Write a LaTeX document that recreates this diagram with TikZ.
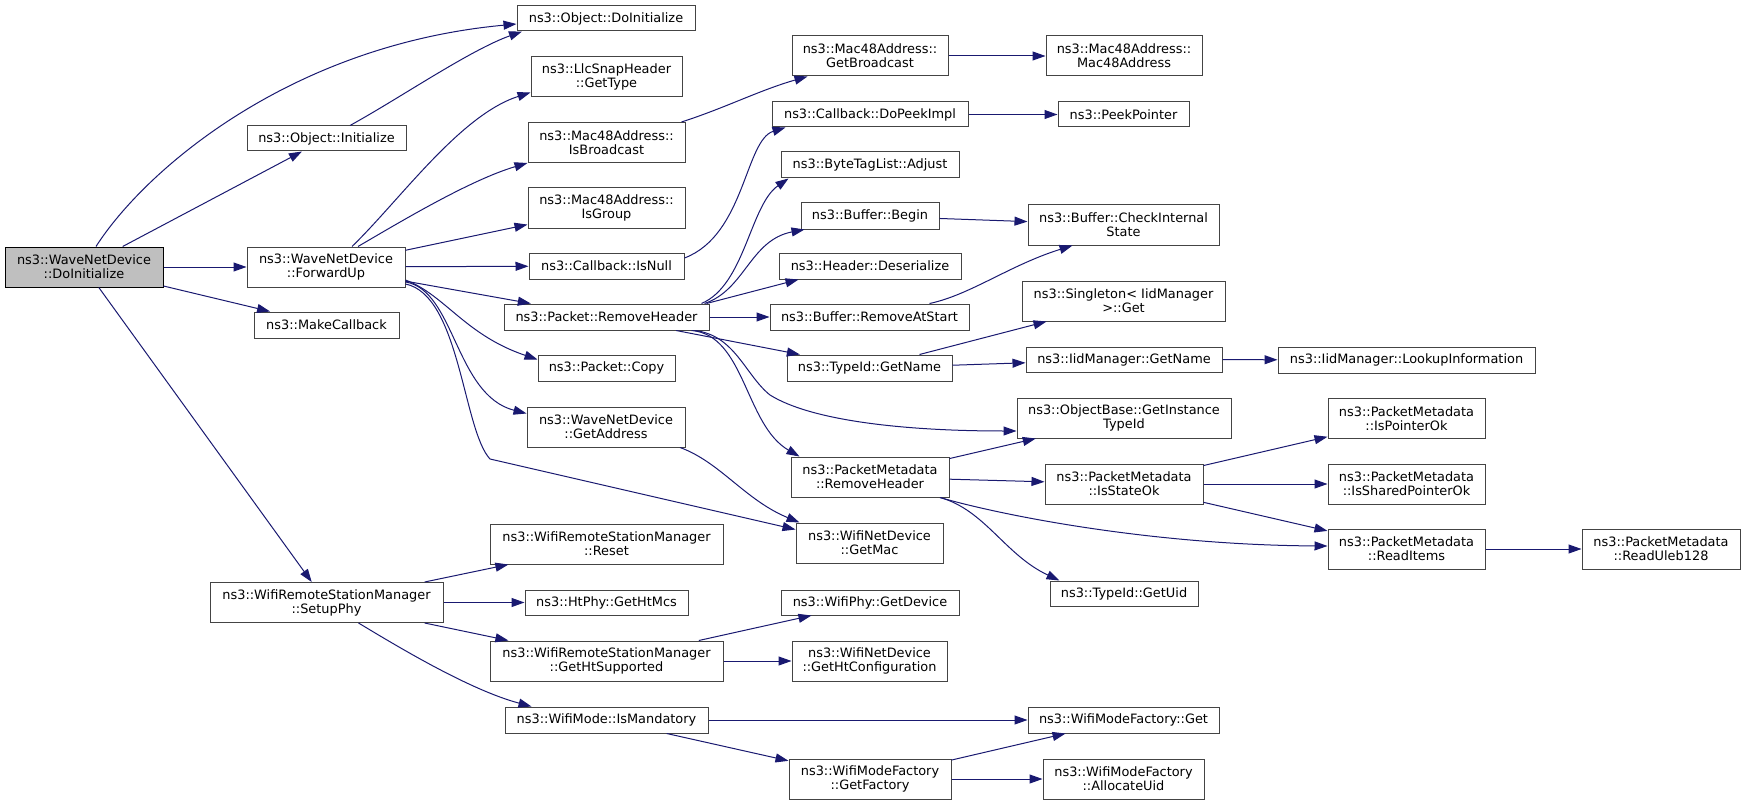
\documentclass[tikz,border=0pt]{standalone}
\usepackage{fontspec}
\setmainfont{DejaVu Sans}
\usetikzlibrary{arrows.meta}
\definecolor{edgec}{HTML}{191970}
\definecolor{boxc}{HTML}{444444}
\definecolor{rootfill}{HTML}{BFBFBF}
\tikzset{
  fn/.style={draw=boxc, line width=1pt, fill=white, rectangle, inner sep=0pt,
    align=center, font=\fontsize{12.9}{14}\selectfont, text=black},
  box/.style 2 args={fn, minimum width=#1pt, minimum height=#2pt},
  rootbox/.style={draw=black, fill=rootfill},
  call/.style={draw=edgec, line width=1pt, -{Triangle[length=13pt,width=9pt]}}
}
\begin{document}
\begin{tikzpicture}[x=1pt,y=-1pt]
\useasboundingbox (0,0) rectangle (1745,805);
% column 0
\node[box={158}{40},rootbox] (root) at (84,267) {ns3::WaveNetDevice\\::DoInitialize};
% column 1
\node[box={159}{25}] (objinit) at (326.5,138.5) {ns3::Object::Initialize};
\node[box={158}{40}] (fwd) at (326,267) {ns3::WaveNetDevice\\::ForwardUp};
\node[box={145}{26}] (mkcb) at (326.5,325) {ns3::MakeCallback};
\node[box={233}{40}] (setup) at (326.5,602.5) {ns3::WifiRemoteStationManager\\::SetupPhy};
% column 2
\node[box={178}{25}] (objdoinit) at (606,18.5) {ns3::Object::DoInitialize};
\node[box={151}{40}] (gettype) at (606.5,77) {ns3::LlcSnapHeader\\::GetType};
\node[box={157}{40}] (isbc) at (606.5,142.5) {ns3::Mac48Address::\\IsBroadcast};
\node[box={157}{40}] (isgroup) at (606.5,208) {ns3::Mac48Address::\\IsGroup};
\node[box={155}{26}] (isnull) at (606.5,266) {ns3::Callback::IsNull};
\node[box={205}{26}] (rmhdr) at (606.5,317) {ns3::Packet::RemoveHeader};
\node[box={137}{26}] (copy) at (606.5,368) {ns3::Packet::Copy};
\node[box={158}{40}] (getaddr) at (606,427) {ns3::WaveNetDevice\\::GetAddress};
\node[box={233}{40}] (reset) at (606.5,544) {ns3::WifiRemoteStationManager\\::Reset};
\node[box={163}{25}] (htmcs) at (606.5,602.5) {ns3::HtPhy::GetHtMcs};
\node[box={233}{40}] (htsupp) at (606.5,661) {ns3::WifiRemoteStationManager\\::GetHtSupported};
\node[box={203}{26}] (ismand) at (606.5,720) {ns3::WifiMode::IsMandatory};
% column 3
\node[box={156}{40}] (getbc) at (870,56) {ns3::Mac48Address::\\GetBroadcast};
\node[box={196}{25}] (dopeek) at (870,114.5) {ns3::Callback::DoPeekImpl};
\node[box={178}{26}] (adjust) at (870,165) {ns3::ByteTagList::Adjust};
\node[box={138}{26}] (begin) at (870,216) {ns3::Buffer::Begin};
\node[box={182}{26}] (deser) at (870,266) {ns3::Header::Deserialize};
\node[box={199}{26}] (rmstart) at (869.5,317) {ns3::Buffer::RemoveAtStart};
\node[box={165}{26}] (tgetname) at (869.5,368) {ns3::TypeId::GetName};
\node[box={158}{40}] (pmrmhdr) at (870,477) {ns3::PacketMetadata\\::RemoveHeader};
\node[box={147}{40}] (getmac) at (869.5,543) {ns3::WifiNetDevice\\::GetMac};
\node[box={178}{25}] (getdev) at (870,602.5) {ns3::WifiPhy::GetDevice};
\node[box={155}{40}] (htconf) at (869.5,661) {ns3::WifiNetDevice\\::GetHtConfiguration};
\node[box={162}{40}] (getfac) at (870,779) {ns3::WifiModeFactory\\::GetFactory};
% column 4
\node[box={156}{40}] (mac48) at (1124,56) {ns3::Mac48Address::\\Mac48Address};
\node[box={131}{25}] (peek) at (1123.5,114.5) {ns3::PeekPointer};
\node[box={191}{40}] (check) at (1123.5,225) {ns3::Buffer::CheckInternal\\State};
\node[box={203}{40}] (singleton) at (1123.5,301) {ns3::Singleton< IidManager\\ >::Get};
\node[box={196}{25}] (iidgetname) at (1124,359.5) {ns3::IidManager::GetName};
\node[box={214}{40}] (instid) at (1124,418) {ns3::ObjectBase::GetInstance\\TypeId};
\node[box={158}{40}] (statok) at (1124,484) {ns3::PacketMetadata\\::IsStateOk};
\node[box={148}{25}] (getuid) at (1124,593.5) {ns3::TypeId::GetUid};
\node[box={191}{26}] (mfget) at (1123.5,720) {ns3::WifiModeFactory::Get};
\node[box={161}{40}] (alloc) at (1123.5,779) {ns3::WifiModeFactory\\::AllocateUid};
% column 5
\node[box={257}{26}] (lookup) at (1406.5,360) {ns3::IidManager::LookupInformation};
\node[box={157}{40}] (ptrok) at (1406.5,418.5) {ns3::PacketMetadata\\::IsPointerOk};
\node[box={157}{40}] (shptrok) at (1406.5,484) {ns3::PacketMetadata\\::IsSharedPointerOk};
\node[box={157}{40}] (readitems) at (1406.5,549) {ns3::PacketMetadata\\::ReadItems};
% column 6
\node[box={158}{40}] (uleb) at (1661,549) {ns3::PacketMetadata\\::ReadUleb128};
% waypoints
\coordinate (k1) at (490,459);
\coordinate (k2) at (770,395);

% root edges
\draw[call] ([xshift=12pt]root.north) .. controls (145,170) and (290,45) .. ([yshift=-5.5pt]objdoinit.west);
\draw[call] (root) -- (objinit);
\draw[call] (root) -- (fwd);
\draw[call] (root) -- (mkcb);
\draw[call] (root) -- (setup);
% Object::Initialize
\draw[call] ([xshift=23.5pt]objinit.north) .. controls (400,98) and (470,50) .. ([xshift=-84pt]objdoinit.south);
% ForwardUp
\draw[call] ([xshift=26pt]fwd.north) .. controls (400,200) and (460,115) .. ([yshift=5pt]gettype.south west);
\draw[call] ([xshift=32pt]fwd.north) .. controls (400,222) and (470,180) .. (isbc.south west);
\draw[call] (fwd) -- (isgroup);
\draw[call] (fwd) -- (isnull);
\draw[call] (fwd) -- (rmhdr);
\draw[call] ([yshift=-13pt]fwd.east) .. controls (445,295) and (465,335) .. ([yshift=-5pt]copy.north west);
\draw[call] ([yshift=-15pt]fwd.east) .. controls (455,290) and (455,395) .. ([yshift=-7pt]getaddr.north west);
\draw[call] ([yshift=-17pt]fwd.east) .. controls (460,295) and (463,430) .. (k1) -- ([yshift=-7pt]getmac.north west);
% column 2 edges
\draw[call] ([xshift=75pt]isbc.north) .. controls (725,108) and (760,90) .. ([xshift=16pt]getbc.south west);
\draw[call] ([yshift=8pt]isnull.east) .. controls (745,235) and (745,140) .. ([xshift=14pt]dopeek.south west);
\draw[call] ([xshift=95pt]rmhdr.north) .. controls (745,285) and (750,205) .. ([xshift=8pt]adjust.south west);
\draw[call] ([xshift=98pt]rmhdr.north) .. controls (745,290) and (750,240) .. ([xshift=4pt]begin.south west);
\draw[call] ([xshift=100pt]rmhdr.north) -- ([xshift=20pt]deser.south west);
\draw[call] (rmhdr) -- (rmstart);
\draw[call] (rmhdr) -- (tgetname);
\draw[call] ([xshift=88pt]rmhdr.south) .. controls (735,335) and (745,375) .. (k2) .. controls (810,420) and (900,431) .. ([yshift=-13pt]instid.west);
\draw[call] ([xshift=85pt]rmhdr.south) .. controls (745,335) and (745,425) .. ([xshift=9pt]pmrmhdr.north west);
\draw[call] ([xshift=74pt]getaddr.south) .. controls (720,462) and (745,500) .. ([xshift=4pt]getmac.north west);
\draw[call] (setup) -- (reset);
\draw[call] (setup) -- (htmcs);
\draw[call] (setup) -- (htsupp);
\draw[call] ([xshift=32pt]setup.south) .. controls (400,648) and (470,690) .. ([xshift=27pt]ismand.north west);
\draw[call] (htsupp) -- (getdev);
\draw[call] (htsupp) -- (htconf);
\draw[call] (ismand) -- (mfget);
\draw[call] (ismand) -- (getfac);
% column 3 edges
\draw[call] (getbc) -- (mac48);
\draw[call] (dopeek) -- (peek);
\draw[call] (begin) -- (check);
\draw[call] ([xshift=60pt]rmstart.north) .. controls (970,295) and (1010,265) .. ([xshift=45pt]check.south west);
\draw[call] ([xshift=50pt]tgetname.north) -- ([xshift=25pt]singleton.south west);
\draw[call] (tgetname) -- (iidgetname);
\draw[call] (pmrmhdr) -- (instid);
\draw[call] (pmrmhdr) -- (statok);
\draw[call] ([xshift=70pt]pmrmhdr.south) .. controls (1000,515) and (1150,545) .. ([yshift=3pt]readitems.west);
\draw[call] ([xshift=70pt]pmrmhdr.south) .. controls (985,510) and (1005,555) .. ([xshift=10pt]getuid.north west);
\draw[call] (getfac) -- (mfget);
\draw[call] (getfac) -- (alloc);
% column 4 edges
\draw[call] (iidgetname) -- (lookup);
\draw[call] (statok) -- (ptrok);
\draw[call] (statok) -- (shptrok);
\draw[call] (statok) -- (readitems);
% column 5 edges
\draw[call] (readitems) -- (uleb);
\end{tikzpicture}
\end{document}
